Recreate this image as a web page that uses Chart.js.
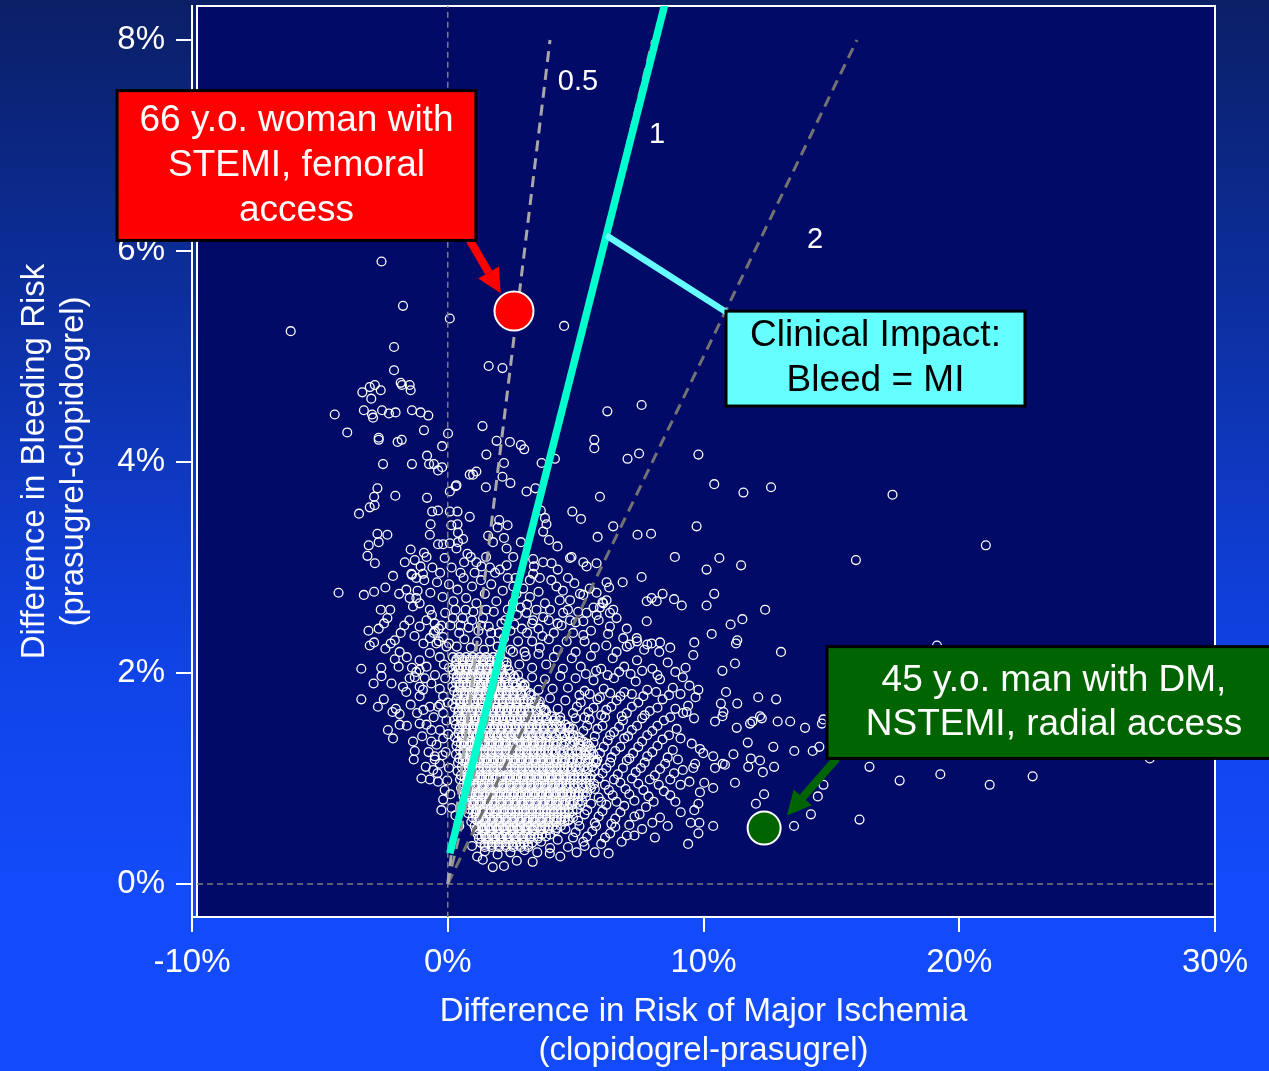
<!DOCTYPE html>
<html>
<head>
<meta charset="utf-8">
<script src="https://cdn.jsdelivr.net/npm/chart.js@4.4.1/dist/chart.umd.min.js"></script>
<style>
  html, body { margin: 0; padding: 0; }
  body {
    width: 1269px; height: 1071px; overflow: hidden;
    background: linear-gradient(180deg, #0b1f66 0%, #0d33ad 35%, #1043e6 62%, #134bfa 82%, #134bfa 100%);
  }
  #wrap { position: relative; width: 1269px; height: 1071px; }
</style>
</head>
<body>
<div id="wrap"><canvas id="riskChart"></canvas></div>
<script>
// ---------------------------------------------------------------- data
const xTicks = [-10, 0, 10, 20, 30];
const yTicks = [0, 2, 4, 6, 8];

// isolated / sparse patients  [ischemia diff %, bleeding diff %]
const sparsePts = [
  [-2.59,5.90],[-1.75,5.48],[0.08,5.36],[-6.14,5.24],[-2.10,5.09],[-2.10,4.87],
  [-3.34,4.66],[-3.05,4.71],[-2.85,4.73],[-2.62,4.68],[-1.84,4.75],[-1.79,4.73],[-1.49,4.73],[-1.45,4.68],
  [-2.99,4.60],[-3.28,4.49],[-2.96,4.45],[-2.92,4.42],[-2.57,4.49],[-2.30,4.46],[-2.04,4.47],[-1.40,4.49],
  [-1.06,4.47],[-0.76,4.44],[-4.42,4.45],[-3.93,4.28],[-2.70,4.23],[-2.70,4.21],[-1.96,4.19],[-1.80,4.21],
  [-0.93,4.30],[0.01,4.27],[-0.22,4.15],[-0.81,4.06],[-2.53,3.98],[-1.40,3.98],[-0.73,3.98],[-0.54,3.98],
  [-0.38,3.92],[-0.22,3.95],[0.34,3.78],[0.08,3.72],[0.86,3.88],[-2.75,3.75],[-2.88,3.67],[-3.05,3.57],
  [-2.86,3.59],[-3.47,3.51],[-2.05,3.68],[-0.81,3.66],[-0.61,3.53],[-0.38,3.54],[0.08,3.53],[0.38,3.53],
  [-0.67,3.41],[-0.70,3.31],[0.14,3.40],[0.38,3.41],[0.40,3.33],[-2.75,3.32],[-2.36,3.31],[-2.70,3.24],
  [-3.09,3.21],[-3.14,3.11],[-2.85,3.04],[-0.38,3.22],[-0.18,3.22],[0.08,3.23],[-1.45,3.17],[-0.93,3.14],
  [-0.83,3.10],[-1.68,3.05],[-1.29,3.07],[-1.06,3.01],[-2.14,2.92],[-1.40,2.93],[-0.97,2.94],
  [-4.27,2.76],[-3.28,2.74],[-2.88,2.77],[-2.44,2.81],[-1.62,2.79],[-1.49,2.71],[-1.23,2.71],
  [-2.62,2.60],[-2.36,2.52],[-2.49,2.47],[-1.84,2.38],[-1.42,2.94],[-1.23,2.90],
  [4.55,5.29],[1.60,4.91],[2.14,4.89],[6.24,4.48],[7.58,4.54],[1.36,4.34],
  [1.91,4.20],[2.43,4.19],[2.86,4.16],[2.99,4.12],[5.73,4.21],[5.73,4.13],
  [1.51,4.07],[2.20,3.99],[3.67,3.99],[4.19,4.03],[7.03,4.03],[7.48,4.08],[9.80,4.07],
  [0.99,3.88],[1.12,3.91],[2.14,3.86],[2.45,3.80],[1.49,3.76],[0.31,3.77],[3.08,3.72],[3.43,3.75],
  [10.42,3.79],[11.56,3.71],[12.64,3.76],[5.95,3.67],[17.39,3.69],
  [0.86,3.48],[2.01,3.45],[2.34,3.40],[1.95,3.38],[3.64,3.54],[3.80,3.47],[3.86,3.41],[3.73,3.34],
  [4.87,3.53],[5.21,3.46],[6.47,3.39],[5.86,3.29],[7.42,3.31],[7.95,3.32],[9.73,3.39],
  [1.58,3.30],[1.77,3.24],[2.20,3.28],[2.30,3.18],[2.86,3.24],[3.96,3.26],[4.29,3.20],
  [8.88,3.10],[10.62,3.09],[21.04,3.21],[10.12,2.98],[11.47,3.02],[15.96,3.07],
  [4.78,3.09],[4.84,3.10],[5.30,3.05],[5.43,3.01],[5.82,3.04],[3.73,3.05],[4.06,3.04],[3.34,3.08],[3.37,3.01],[2.56,3.10],
  [3.21,2.88],[2.56,2.82],[2.69,2.75],[3.34,2.94],[2.04,2.98],
  [0.60,3.27],[0.40,3.24],[-0.12,3.09],[0.77,3.13],[0.64,3.05],[0.34,3.18],[1.12,3.05],[1.32,3.01],
  [4.78,2.69],[5.17,2.75],[5.30,2.74],[4.25,2.82],[4.38,2.69],[6.21,2.69],[6.08,2.66],[5.95,2.62],[5.82,2.76],
  [5.43,2.57],[5.82,2.55],[5.30,2.49],[6.34,2.57],[6.47,2.60],[3.21,2.72],[3.08,2.57],[3.47,2.60],[3.73,2.53],
  [3.34,2.50],[4.51,2.57],[4.78,2.50],
  [6.84,2.86],[7.58,2.91],[6.21,2.86],[6.31,2.81],[6.05,2.67],[7.78,2.68],[7.97,2.71],[8.17,2.68],[8.40,2.75],
  [8.85,2.70],[9.15,2.64],[10.42,2.75],[10.12,2.64],[12.41,2.60],[7.78,2.49],[6.34,2.44],[6.27,2.37],
  [11.06,2.46],[11.52,2.51],[10.32,2.37],[9.64,2.29],[11.27,2.28],[11.32,2.31],[13.03,2.20],
  [6.86,2.33],[7.12,2.27],[7.39,2.33],[7.97,2.28],[8.30,2.29],[7.68,2.22],[8.27,2.20],[9.60,2.17],
  [11.23,2.09],[10.74,2.02],[9.19,1.96],[9.45,1.88],[9.80,1.84],[10.88,1.82],[12.14,1.77],[12.84,1.75],
  [9.69,1.77],[9.40,1.69],[9.34,1.63],[11.32,1.71],[10.68,1.71],[10.78,1.63],[10.74,1.59],[9.63,1.57],[10.45,1.54],
  [12.21,1.59],[12.28,1.57],[11.82,1.52],[11.91,1.54],[12.90,1.54],[13.39,1.54],[13.97,1.48],[11.30,1.48],
  [14.63,1.52],[14.69,1.56],[11.73,1.34],[9.54,1.33],[9.86,1.28],[9.99,1.24],[10.38,1.21],[11.17,1.23],
  [12.73,1.30],[13.55,1.26],[14.27,1.26],[14.53,1.30],[9.19,1.08],[9.67,1.14],[9.60,1.10],[10.75,1.14],
  [10.84,1.13],[10.45,1.10],[11.85,1.19],[12.21,1.17],[11.75,1.11],[12.32,1.06],[12.76,1.11],
  [16.49,1.11],[17.67,0.98],[19.26,1.04],[21.19,0.94],[22.87,1.02],
  [9.45,0.97],[10.03,0.96],[10.38,0.91],[11.23,0.96],[14.69,0.94],[14.47,0.83],
  [9.86,0.87],[9.64,0.70],[9.80,0.76],[12.37,0.85],[12.05,0.76],
  [9.11,0.68],[9.50,0.58],[9.84,0.58],[10.38,0.55],[9.80,0.48],[9.40,0.38],[14.20,0.66],[13.54,0.55],[16.10,0.61],
  [19.13,2.26],[27.45,1.19]
];

// left arm of the cloud (negative ischemia difference)
const leftArmPts = [
  [-3.05,2.26],[-2.88,2.29],[-2.44,2.23],[-2.23,2.28],[-2.07,2.31],[-1.88,2.20],[-2.07,2.13],[-1.92,2.06],
  [-3.38,2.04],[-2.59,1.97],[-2.20,1.90],[-1.75,1.87],[-1.49,1.95],[-1.29,1.96],[-1.62,1.82],[-1.10,1.78],
  [-0.97,1.84],[-3.38,1.75],[-2.73,1.68],[-2.16,1.63],[-1.88,1.61],[-2.03,1.66],[-1.88,1.51],[-2.34,1.46],
  [-2.14,1.38],[-1.36,1.35],[-1.29,1.26],[-1.10,1.52],[-0.83,1.51],[-0.64,1.46],[-1.03,1.00],[-0.70,0.99],
  [-0.38,0.97],[-0.18,0.80],[-0.12,0.89],[-0.57,1.08],[-0.51,1.18],[-0.64,1.35],[-0.44,1.32],[-1.10,2.12],
  [-0.70,2.19],[-0.31,2.15],[-0.44,2.28],[-0.18,2.34],[-0.70,2.33],[-1.10,2.44],[-0.83,2.50],[-0.51,2.47],
  [-1.36,2.63],[-1.10,2.66],[-0.70,2.60],[-1.10,1.87],[-0.64,1.90],[-0.31,1.85],[-0.18,1.78],[-0.70,1.68],
  [-0.38,1.68],[-0.18,1.62],[-0.31,1.46],[-0.18,1.38],[-0.51,1.21],[-0.31,1.14],[-1.10,2.03],[-0.83,2.06],
  [-1.23,2.01],[-1.33,1.18],[-0.86,1.11],[-0.25,0.70],
  [-0.05,2.25],[0.05,2.05],[-0.10,1.95],[0.00,1.72],[-0.05,1.55],[0.02,1.42],[-0.08,1.25],[0.05,1.10],
  [-0.02,0.98],[0.10,0.85],[0.15,0.72],[0.30,0.65],[0.45,0.55],
  [-1.50,2.50],[-1.30,2.35],[-0.95,2.28],[-0.55,2.38],[-0.25,2.45],[-1.60,2.15],[-1.40,2.05],[-0.90,1.95],
  [-0.50,1.98],[-0.15,2.08],[-1.45,1.70],[-1.20,1.62],[-0.95,1.65],[-0.55,1.58],[-0.30,1.70],[-1.60,1.50],
  [-1.00,1.40],[-0.75,1.25],[-0.40,1.05],[-0.20,1.22],[-2.60,2.05],[-2.90,1.90],[-2.50,1.75],[-3.10,2.40],
  [-2.70,2.42],[-1.70,2.45],[-2.25,2.60],[-1.90,2.75]
];

// medium-density halo round the core
const fringePts = [
  [-1.18,2.78],[-0.92,2.88],[-0.68,2.76],[-0.42,2.86],[-0.20,2.72],[0.05,2.84],[0.22,2.68],[0.38,2.79],
  [0.62,2.90],[0.72,2.71],[0.95,2.82],[1.12,2.66],[1.30,2.88],[1.45,2.75],[1.70,2.84],[1.90,2.68],
  [2.15,2.78],[2.35,2.90],[2.55,2.66],[2.95,2.80],[3.10,2.65],[3.55,2.77],[3.80,2.66],[4.05,2.88],
  [4.50,2.78],[4.95,2.85],[5.55,2.80],
  [0.15,3.00],[0.50,2.95],[0.90,3.10],[1.50,3.10],[1.85,2.95],[2.30,3.02],[2.65,2.90],[3.60,2.90],
  [4.30,2.98],[4.70,2.90],[-0.60,3.00],[-0.30,2.95],[1.05,2.95],[1.65,3.00],
  [-0.62,2.55],[-0.35,2.42],[-0.10,2.57],[0.10,2.45],[0.30,2.60],[0.45,2.38],[0.58,2.52],[0.82,2.43],
  [1.00,2.58],[1.20,2.40],[1.38,2.52],[1.60,2.44],[1.80,2.58],[2.00,2.38],[2.25,2.50],[2.45,2.40],
  [2.70,2.55],[2.90,2.42],[3.10,2.38],[3.55,2.42],[3.95,2.50],[4.15,2.38],[4.45,2.45],[4.90,2.38],
  [5.10,2.58],[5.60,2.40],[5.90,2.50],[6.60,2.52],[7.00,2.42],
  [-0.50,2.40],[0.20,2.52],[0.50,2.45],[0.70,2.60],[0.95,2.50],[1.30,2.45],[1.50,2.60],[1.70,2.38],
  [2.10,2.47],[2.35,2.60],[2.60,2.46],[2.85,2.62],[3.30,2.47],[3.70,2.35],[4.00,2.60],[4.30,2.47],
  [4.70,2.60],[5.00,2.48],[5.30,2.36],[5.70,2.62],
  [-0.35,2.30],[0.05,2.28],[0.35,2.25],[0.65,2.32],[0.90,2.24],[1.15,2.30],[1.42,2.22],[1.65,2.30],
  [1.95,2.25],[2.20,2.33],[2.45,2.22],[2.75,2.30],[3.00,2.20],[3.30,2.30],[3.60,2.24],[3.95,2.32],
  [4.30,2.22],[4.65,2.30],[5.00,2.20],[5.35,2.30],[5.75,2.24],[6.60,2.20],[7.40,2.30],
  [6.20,2.26],[7.00,2.25],[7.80,2.27],[8.70,2.24],
  [2.05,2.18],[2.30,2.10],[2.55,2.20],[2.80,2.08],[3.05,2.16],[3.30,2.05],[3.55,2.18],[3.85,2.08],
  [4.15,2.15],[4.50,2.04],[4.85,2.14],[5.20,2.06],[5.60,2.16],[6.00,2.04],[6.45,2.14],[6.90,2.06],
  [7.40,2.12],[8.00,2.04],[8.60,2.10],
  [5.40,1.99],[5.80,2.02],[6.25,1.98],[6.70,2.01],[7.15,1.99],[7.60,2.02],[8.20,1.98],[8.90,2.01],[9.30,2.05],
  [2.75,1.98],[3.00,1.88],[3.30,1.96],[3.55,1.84],[3.80,1.94],[4.10,1.85],[4.40,1.97],[4.70,1.86],
  [5.00,1.95],[5.35,1.83],[5.70,1.93],[6.10,1.85],[6.50,1.95],[6.90,1.82],[7.35,1.92],[7.80,1.84],
  [8.30,1.94],[8.80,1.86],
  [5.15,1.79],[5.55,1.80],[5.95,1.77],[6.35,1.81],[6.75,1.78],[7.20,1.80],[7.65,1.78],[8.15,1.82],[8.65,1.79],[9.10,1.80],
  [3.40,1.72],[3.75,1.64],[4.00,1.76],[4.30,1.66],[4.60,1.74],[4.90,1.62],[5.20,1.72],[5.50,1.63],
  [5.85,1.75],[6.20,1.65],[6.60,1.74],[7.00,1.62],[7.45,1.72],[7.90,1.64],[8.40,1.75],[8.90,1.66],
  [5.05,1.68],[5.35,1.58],[5.70,1.67],[6.00,1.60],[6.40,1.68],[6.80,1.59],[7.20,1.68],[7.70,1.60],[8.20,1.67],[8.70,1.58],[9.20,1.62],
  [4.40,1.58],[4.70,1.48],[5.00,1.57],[5.30,1.45],[5.55,1.56],[5.85,1.47],[6.15,1.58],[6.50,1.44],
  [6.85,1.55],[7.20,1.46],[7.60,1.57],[8.00,1.45],[8.45,1.55],[8.95,1.47],
  [4.90,1.41],[5.20,1.36],[5.45,1.50],[5.75,1.40],[6.05,1.50],[6.35,1.41],[6.70,1.49],[7.05,1.40],
  [7.40,1.50],[7.80,1.41],[8.20,1.50],[8.65,1.41],[9.10,1.38],
  [5.40,1.22],[5.70,1.34],[5.95,1.24],[6.25,1.36],[6.55,1.26],[6.90,1.38],[7.25,1.24],[7.60,1.35],
  [8.00,1.25],[8.40,1.37],[8.80,1.27],
  [5.60,1.28],[5.85,1.18],[6.10,1.30],[6.40,1.20],[6.75,1.30],[7.10,1.19],[7.45,1.30],[7.80,1.21],[8.20,1.31],[8.60,1.20],[9.00,1.18],
  [5.80,1.16],[6.05,1.05],[6.35,1.15],[6.65,1.04],[7.00,1.17],[7.35,1.06],[7.70,1.15],[8.10,1.03],
  [8.50,1.14],[8.85,1.05],
  [5.90,1.00],[6.20,1.10],[6.50,0.99],[6.85,1.10],[7.20,1.00],[7.55,1.10],[7.90,0.99],[8.30,1.09],[8.70,0.99],[9.10,0.94],
  [5.90,0.82],[6.15,0.94],[6.45,0.84],[6.75,0.96],[7.10,0.85],[7.45,0.95],[7.85,0.83],[8.25,0.94],[8.70,0.84],
  [5.75,0.90],[6.00,0.78],[6.30,0.89],[6.60,0.78],[6.95,0.90],[7.30,0.79],[7.65,0.89],[8.05,0.78],[8.45,0.88],[8.90,0.78],
  [5.35,0.66],[5.60,0.76],[5.90,0.64],[6.20,0.75],[6.55,0.62],[6.90,0.74],[7.30,0.64],[7.75,0.73],[8.30,0.63],
  [5.10,0.60],[5.45,0.70],[5.75,0.58],[6.05,0.69],[6.40,0.57],[6.75,0.68],[7.10,0.56],[7.50,0.66],[8.00,0.58],[8.60,0.55],
  [4.60,0.52],[4.90,0.44],[5.15,0.55],[5.45,0.45],[5.80,0.55],[6.15,0.44],[6.55,0.54],[7.00,0.46],[7.60,0.52],
  [4.70,0.60],[5.00,0.49],[5.30,0.40],[5.65,0.50],[6.00,0.38],[6.35,0.48],[6.80,0.40],[7.30,0.46],[8.10,0.44],
  [0.95,0.36],[1.15,0.26],[1.45,0.31],[1.37,0.23],[1.76,0.16],[1.95,0.28],[2.20,0.17],[2.45,0.30],
  [2.70,0.22],[3.00,0.32],[3.32,0.21],[3.50,0.30],[3.65,0.40],[3.99,0.29],[4.00,0.34],[4.30,0.42],
  [4.40,0.26],[4.70,0.35],[5.04,0.30],[5.35,0.36],[5.75,0.30],[6.29,0.29]
];

// dense core, one row per bleeding level: [y, [x, x, ...]]
const coreRows = [
  [2.15, [0.20,0.45,0.72,0.98,1.25,1.50,1.78]],
  [2.13, [0.34,0.58,0.86,1.12,1.39,1.63,1.92]],
  [2.11, [0.33,0.60,0.86,1.12,1.38,1.64,1.92,2.18]],
  [2.07, [0.30,0.58,0.85,1.10,1.38,1.65,1.95,2.30]],
  [2.05, [0.44,0.72,0.99,1.24,1.52,1.79,2.10]],
  [2.03, [0.18,0.44,0.72,0.98,1.24,1.52,1.80,2.08,2.38]],
  [1.99, [0.22,0.48,0.75,1.02,1.28,1.55,1.82,2.10,2.45]],
  [1.97, [0.36,0.62,0.89,1.16,1.42,1.69,1.96,2.24,2.58]],
  [1.95, [0.36,0.62,0.90,1.16,1.42,1.70,1.98,2.28,2.62]],
  [1.91, [0.32,0.60,0.88,1.15,1.40,1.68,1.95,2.22,2.55,2.85]],
  [1.89, [0.46,0.74,1.02,1.29,1.54,1.82,2.09,2.36,2.70,3.00]],
  [1.87, [0.18,0.46,0.74,1.02,1.28,1.54,1.82,2.08,2.36,2.64,2.92]],
  [1.83, [0.25,0.52,0.80,1.06,1.33,1.60,1.88,2.15,2.42,2.70,3.05]],
  [1.81, [0.39,0.66,0.94,1.20,1.47,1.74,2.02,2.29,2.56,2.84,3.20]],
  [1.79, [0.38,0.66,0.94,1.20,1.48,1.75,2.02,2.30,2.58,2.88,3.25]],
  [1.75, [0.35,0.62,0.90,1.18,1.45,1.72,2.00,2.28,2.55,2.82,3.12,3.45]],
  [1.73, [0.49,0.76,1.04,1.32,1.59,1.86,2.14,2.42,2.69,2.96,3.27,3.60]],
  [1.71, [0.20,0.48,0.76,1.04,1.30,1.58,1.86,2.14,2.40,2.68,2.96,3.28,3.55]],
  [1.67, [0.28,0.55,0.82,1.10,1.36,1.63,1.90,2.18,2.45,2.72,3.00,3.30,3.65]],
  [1.65, [0.42,0.69,0.96,1.24,1.50,1.77,2.04,2.32,2.59,2.86,3.15,3.46,3.80]],
  [1.63, [0.42,0.70,0.96,1.24,1.50,1.77,2.05,2.32,2.60,2.88,3.18,3.50,3.85]],
  [1.59, [0.38,0.65,0.92,1.20,1.48,1.75,2.02,2.30,2.58,2.85,3.12,3.40,3.70,4.05]],
  [1.57, [0.52,0.79,1.06,1.34,1.62,1.89,2.16,2.44,2.72,2.99,3.26,3.55,3.86,4.22]],
  [1.55, [0.24,0.52,0.78,1.06,1.34,1.62,1.88,2.16,2.44,2.72,3.00,3.26,3.55,3.82,4.15,4.40]],
  [1.51, [0.32,0.58,0.85,1.12,1.40,1.68,1.95,2.22,2.50,2.78,3.05,3.32,3.60,3.90,4.25,4.60]],
  [1.49, [0.46,0.72,0.99,1.26,1.54,1.82,2.09,2.36,2.64,2.92,3.19,3.47,3.75,4.06,4.42,4.76]],
  [1.47, [0.46,0.72,1.00,1.26,1.54,1.82,2.10,2.36,2.64,2.92,3.20,3.48,3.78,4.08,4.45,4.90]],
  [1.43, [0.42,0.70,0.98,1.25,1.52,1.80,2.08,2.35,2.62,2.90,3.18,3.45,3.75,4.05,4.40,4.75]],
  [1.41, [0.56,0.84,1.12,1.39,1.66,1.94,2.22,2.49,2.76,3.04,3.32,3.60,3.90,4.22,4.57,4.92]],
  [1.39, [0.28,0.54,0.80,1.08,1.35,1.62,1.90,2.18,2.45,2.72,3.00,3.28,3.56,3.84,4.15,4.48,4.80,5.12]],
  [1.35, [0.38,0.65,0.92,1.20,1.48,1.75,2.02,2.30,2.58,2.85,3.12,3.40,3.68,3.98,4.28,4.60,4.95,5.30]],
  [1.33, [0.52,0.79,1.06,1.34,1.62,1.89,2.16,2.44,2.72,2.99,3.26,3.54,3.82,4.13,4.44,4.77,5.12,5.45]],
  [1.31, [0.34,0.62,0.88,1.16,1.44,1.70,1.98,2.26,2.54,2.82,3.08,3.36,3.64,3.94,4.22,4.52,4.85,5.18,5.52]],
  [1.27, [0.48,0.75,1.02,1.30,1.58,1.85,2.12,2.40,2.68,2.95,3.22,3.50,3.78,4.08,4.38,4.70,5.02,5.40]],
  [1.25, [0.62,0.89,1.16,1.44,1.72,1.99,2.26,2.54,2.82,3.09,3.36,3.64,3.92,4.22,4.53,4.86,5.20,5.55]],
  [1.23, [0.32,0.60,0.88,1.15,1.42,1.70,1.98,2.25,2.52,2.80,3.08,3.35,3.62,3.90,4.18,4.46,4.76,5.06,5.38,5.70]],
  [1.19, [0.45,0.72,1.00,1.28,1.55,1.82,2.10,2.38,2.65,2.92,3.20,3.48,3.75,4.02,4.30,4.60,4.90,5.22,5.55]],
  [1.17, [0.59,0.86,1.14,1.42,1.69,1.96,2.24,2.52,2.79,3.06,3.34,3.62,3.89,4.16,4.45,4.75,5.06,5.38,5.70]],
  [1.15, [0.40,0.68,0.96,1.24,1.52,1.78,2.06,2.34,2.62,2.88,3.16,3.44,3.72,3.98,4.26,4.55,4.85,5.15,5.48,5.80]],
  [1.11, [0.55,0.82,1.10,1.38,1.65,1.92,2.20,2.48,2.75,3.02,3.30,3.58,3.85,4.12,4.40,4.70,5.00,5.32,5.65]],
  [1.09, [0.69,0.96,1.24,1.52,1.79,2.06,2.34,2.62,2.89,3.16,3.44,3.72,3.99,4.26,4.55,4.85,5.16,5.48]],
  [1.07, [0.38,0.66,0.94,1.22,1.50,1.78,2.05,2.32,2.60,2.88,3.15,3.42,3.70,3.96,4.24,4.52,4.80,5.10,5.42,5.75]],
  [1.03, [0.52,0.80,1.08,1.35,1.62,1.90,2.18,2.45,2.72,3.00,3.28,3.55,3.82,4.10,4.38,4.65,4.95,5.25,5.60]],
  [1.01, [0.66,0.94,1.22,1.49,1.76,2.04,2.32,2.59,2.86,3.14,3.42,3.69,3.96,4.24,4.52,4.80,5.10,5.42]],
  [0.99, [0.48,0.76,1.04,1.32,1.58,1.86,2.14,2.42,2.68,2.96,3.24,3.52,3.78,4.06,4.34,4.62,4.92,5.24,5.56]],
  [0.95, [0.62,0.90,1.18,1.45,1.72,2.00,2.28,2.55,2.82,3.10,3.38,3.65,3.92,4.20,4.48,4.78,5.08,5.40,5.72]],
  [0.93, [0.76,1.04,1.32,1.59,1.86,2.14,2.42,2.69,2.96,3.24,3.52,3.79,4.06,4.34,4.63,4.93,5.24,5.56]],
  [0.91, [0.52,0.80,1.08,1.36,1.64,1.92,2.18,2.46,2.74,3.02,3.28,3.56,3.84,4.12,4.40,4.66,4.96,5.28,5.60]],
  [0.87, [0.68,0.95,1.22,1.50,1.78,2.05,2.32,2.60,2.88,3.15,3.42,3.70,3.98,4.25,4.52,4.82,5.12,5.45]],
  [0.85, [0.82,1.09,1.36,1.64,1.92,2.19,2.46,2.74,3.02,3.29,3.56,3.84,4.12,4.39,4.67,4.97,5.28]],
  [0.83, [0.62,0.90,1.18,1.46,1.74,2.02,2.28,2.56,2.84,3.12,3.38,3.66,3.94,4.22,4.50,4.78,5.10,5.40]],
  [0.79, [0.78,1.05,1.32,1.60,1.88,2.15,2.42,2.70,2.98,3.25,3.52,3.80,4.08,4.35,4.62,4.92,5.25]],
  [0.77, [0.92,1.19,1.46,1.74,2.02,2.29,2.56,2.84,3.12,3.39,3.66,3.94,4.22,4.49,4.77,5.08]],
  [0.75, [0.70,0.98,1.26,1.54,1.82,2.08,2.36,2.64,2.92,3.18,3.46,3.74,4.02,4.28,4.56,4.86,5.18]],
  [0.71, [0.85,1.12,1.40,1.68,1.95,2.22,2.50,2.78,3.05,3.32,3.60,3.88,4.15,4.42,4.72,5.05]],
  [0.69, [0.99,1.26,1.54,1.82,2.09,2.36,2.64,2.92,3.19,3.46,3.74,4.02,4.29,4.57,4.88]],
  [0.67, [0.80,1.08,1.36,1.64,1.92,2.20,2.48,2.76,3.04,3.30,3.58,3.86,4.14,4.44,4.75]],
  [0.63, [0.98,1.25,1.52,1.80,2.08,2.35,2.62,2.90,3.18,3.45,3.72,4.00,4.28,4.58,4.90]],
  [0.61, [1.12,1.39,1.66,1.94,2.22,2.49,2.76,3.04,3.32,3.59,3.86,4.14,4.43,4.74]],
  [0.59, [0.92,1.18,1.46,1.74,2.02,2.30,2.56,2.84,3.12,3.40,3.66,3.94,4.24,4.56]],
  [0.55, [1.05,1.32,1.60,1.88,2.15,2.42,2.70,2.98,3.25,3.52,3.80,4.10,4.42]],
  [0.53, [1.19,1.46,1.74,2.02,2.29,2.56,2.84,3.12,3.39,3.66,3.95,4.26]],
  [0.51, [1.10,1.38,1.66,1.94,2.22,2.50,2.76,3.04,3.32,3.62,3.92,4.22]],
  [0.47, [1.18,1.45,1.72,2.00,2.28,2.55,2.82,3.10,3.38,3.68,4.00]],
  [0.45, [1.32,1.59,1.86,2.14,2.42,2.69,2.96,3.24,3.53,3.84]],
  [0.43, [1.22,1.50,1.78,2.06,2.34,2.62,2.90,3.20,3.52]],
  [0.39, [1.30,1.58,1.85,2.12,2.40,2.68,2.98,3.30]],
  [0.37, [1.44,1.72,1.99,2.26,2.54,2.83,3.14]],
  [0.35, [1.45,1.72,2.00,2.28,2.56,2.86,3.15]]
];

const strayPt = [[-10.27, 2.42]];
const womanPt = [[2.59, 5.43]];   // 66 y.o. woman, STEMI, femoral
const manPt = [[12.37, 0.53]];    // 45 y.o. man, DM, NSTEMI, radial

// reference lines (end points)
const ratioHalf = [[0, 0], [4, 8]];
const ratioOne = [[0, 0], [8, 8]];
const ratioTwo = [[0, 0], [16, 8]];
const impactLine = [[0.08, 0.29], [8.5, 8.35]];
const zeroV = [[0, -0.32], [0, 8.33]];
const zeroH = [[-9.8, 0], [30, 0]];

// ---------------------------------------------------------------- callouts (data units)
const notes = {
  labels: [['0.5', 5.09, 7.60], ['1', 8.18, 7.10], ['2', 14.36, 6.10]],
  connector: { from: [6.19, 6.15], to: [11.15, 5.38], color: '#66ffff', width: 6.5 },
  arrows: [
    { from: [0.87, 6.10], to: [2.07, 5.60], color: '#ff0000' },
    { from: [15.21, 1.19], to: [13.26, 0.65], color: '#006400' }
  ],
  boxes: [
    { x0: -12.93, x1: 1.10, y0: 7.52, y1: 6.10, fill: '#ff0000', color: '#ffffff', lh: 45,
      lines: ['66 y.o. woman with', 'STEMI, femoral', 'access'] },
    { x0: 10.88, x1: 22.57, y0: 5.43, y1: 4.53, fill: '#66ffff', color: '#000000', lh: 45,
      lines: ['Clinical Impact:', 'Bleed = MI'] },
    { x0: 14.83, x1: 32.58, y0: 2.25, y1: 1.19, fill: '#006400', color: '#ffffff', lh: 44,
      lines: ['45 y.o. man with DM,', 'NSTEMI, radial access'] }
  ]
};

const FONT = "'Liberation Sans', Arial, Helvetica, sans-serif";
Chart.defaults.font.family = FONT;

function toXY(arr) { return arr.map(p => ({ x: p[0], y: p[1] })); }

var corePts = [];
for (var i in coreRows) {
  coreRows[i][1].forEach(function (x) { corePts.push({ x: x, y: coreRows[i][0] }); });
}
var cloud = toXY(sparsePts).concat(toXY(leftArmPts), toXY(fringePts), corePts);

function refLine(data, color, width, dash, order) {
  return {
    data: toXY(data), showLine: true, borderColor: color, borderWidth: width,
    borderDash: dash, pointRadius: 0, fill: false, order: order
  };
}

function drawArrow(ctx, x0, y0, x1, y1, color) {
  const ang = Math.atan2(y1 - y0, x1 - x0);
  const headLen = 24, headHalf = 12;
  const bx = x1 - headLen * Math.cos(ang), by = y1 - headLen * Math.sin(ang);
  ctx.strokeStyle = color;
  ctx.lineWidth = 8;
  ctx.beginPath(); ctx.moveTo(x0, y0); ctx.lineTo(bx, by); ctx.stroke();
  ctx.fillStyle = color;
  ctx.beginPath();
  ctx.moveTo(x1, y1);
  ctx.lineTo(bx + headHalf * Math.sin(ang), by - headHalf * Math.cos(ang));
  ctx.lineTo(bx - headHalf * Math.sin(ang), by + headHalf * Math.cos(ang));
  ctx.closePath(); ctx.fill();
}

const plotFrame = {
  id: 'plotFrame',
  beforeDraw(chart) {
    const { ctx, chartArea: a } = chart;
    ctx.save();
    ctx.fillStyle = '#020a68';
    ctx.fillRect(a.left + 6, a.top, a.right - a.left - 6, a.bottom - a.top);
    ctx.strokeStyle = '#ffffff';
    ctx.lineWidth = 2;
    ctx.strokeRect(a.left + 5, a.top, a.right - a.left - 5, a.bottom - a.top);
    ctx.restore();
  },
  afterDraw(chart) {
    const { ctx } = chart;
    const sx = chart.scales.x, sy = chart.scales.y;
    const px = v => sx.getPixelForValue(v), py = v => sy.getPixelForValue(v);
    ctx.save();

    // ratio labels
    ctx.fillStyle = '#ffffff';
    ctx.font = '29px ' + FONT;
    ctx.textAlign = 'center';
    ctx.textBaseline = 'middle';
    notes.labels.forEach(l => ctx.fillText(l[0], px(l[1]), py(l[2])));

    // connector from the impact line to its box
    const c = notes.connector;
    ctx.strokeStyle = c.color;
    ctx.lineWidth = c.width;
    ctx.beginPath();
    ctx.moveTo(px(c.from[0]), py(c.from[1]));
    ctx.lineTo(px(c.to[0]), py(c.to[1]));
    ctx.stroke();

    notes.arrows.forEach(a => drawArrow(ctx, px(a.from[0]), py(a.from[1]), px(a.to[0]), py(a.to[1]), a.color));

    // callout boxes
    ctx.font = '37px ' + FONT;
    notes.boxes.forEach(b => {
      const l = px(b.x0), r = px(b.x1), t = py(b.y0), btm = py(b.y1);
      ctx.fillStyle = b.fill;
      ctx.fillRect(l, t, r - l, btm - t);
      ctx.strokeStyle = '#000000';
      ctx.lineWidth = 3;
      ctx.strokeRect(l, t, r - l, btm - t);
      ctx.fillStyle = b.color;
      const cx = (l + r) / 2, cy = (t + btm) / 2;
      b.lines.forEach((s, k) => ctx.fillText(s, cx, cy + (k - (b.lines.length - 1) / 2) * b.lh));
    });
    ctx.restore();
  }
};

// ---------------------------------------------------------------- chart
var ctx = document.getElementById('riskChart');
var riskChart = new Chart(ctx, {
  type: 'scatter',
  data: {
    datasets: [
      { data: toXY(womanPt), pointRadius: 19.5, pointBackgroundColor: '#ff0000',
        pointBorderColor: '#ffffff', pointBorderWidth: 2, order: 0 },
      { data: toXY(manPt), pointRadius: 16.5, pointBackgroundColor: '#006400',
        pointBorderColor: '#ffffff', pointBorderWidth: 2, order: 0 },
      refLine(impactLine, '#00ffcc', 7.5, [], 1),
      refLine(ratioHalf, '#a8a8a8', 3, [11, 7], 2),
      refLine(ratioOne, '#9a9a9a', 2.5, [11, 7], 2),
      refLine(ratioTwo, '#727272', 3, [11, 7], 2),
      refLine(zeroV, '#7c7c7c', 1.5, [6, 4], 2),
      refLine(zeroH, '#7c7c7c', 1.5, [6, 4], 2),
      { data: cloud, pointRadius: 4.4, pointBorderWidth: 1.3, pointBorderColor: '#ffffff',
        pointBackgroundColor: 'rgba(0,0,0,0)', order: 3 },
      { data: toXY(strayPt), pointRadius: 3.5, pointBackgroundColor: '#ffffff',
        pointBorderColor: '#ffffff', pointBorderWidth: 0, clip: false, order: 3 }
    ]
  },
  options: {
    responsive: true,
    maintainAspectRatio: false,
    animation: false,
    layout: { autoPadding: false, padding: { left: 0, right: 54, top: 6, bottom: 0 } },
    plugins: { legend: { display: false }, tooltip: { enabled: false } },
    scales: {
      x: {
        type: 'linear', min: -10, max: 30,
        afterBuildTicks: s => { s.ticks = xTicks.map(v => ({ value: v })); },
        afterFit: s => { s.height = 154; s.paddingLeft = 0; s.paddingRight = 0; },
        ticks: { color: '#ffffff', font: { size: 33 }, padding: 11, maxRotation: 0,
                 callback: v => v + '%' },
        grid: { drawOnChartArea: false, drawTicks: true, tickLength: 15, color: '#ffffff', lineWidth: 2 },
        border: { display: true, color: '#ffffff', width: 2 },
        title: { display: true, color: '#ffffff', font: { size: 33, lineHeight: 1.2 }, padding: 0,
                 text: ['Difference in Risk of Major Ischemia', '(clopidogrel-prasugrel)'] }
      },
      y: {
        type: 'linear', min: -0.313, max: 8.322,
        afterBuildTicks: s => { s.ticks = yTicks.map(v => ({ value: v })); },
        afterFit: s => { s.width = 192; s.paddingTop = 0; s.paddingBottom = 0; },
        ticks: { color: '#ffffff', font: { size: 33 }, padding: 11, callback: v => v + '%' },
        grid: { drawOnChartArea: false, drawTicks: true, tickLength: 16, color: '#ffffff', lineWidth: 2 },
        border: { display: true, color: '#ffffff', width: 2 },
        title: { display: true, color: '#ffffff', font: { size: 33, lineHeight: 1.2 }, padding: { top: 15, bottom: 0 },
                 text: ['Difference in Bleeding Risk', '(prasugrel-clopidogrel)'] }
      }
    }
  },
  plugins: [plotFrame]
});
</script>
</body>
</html>
